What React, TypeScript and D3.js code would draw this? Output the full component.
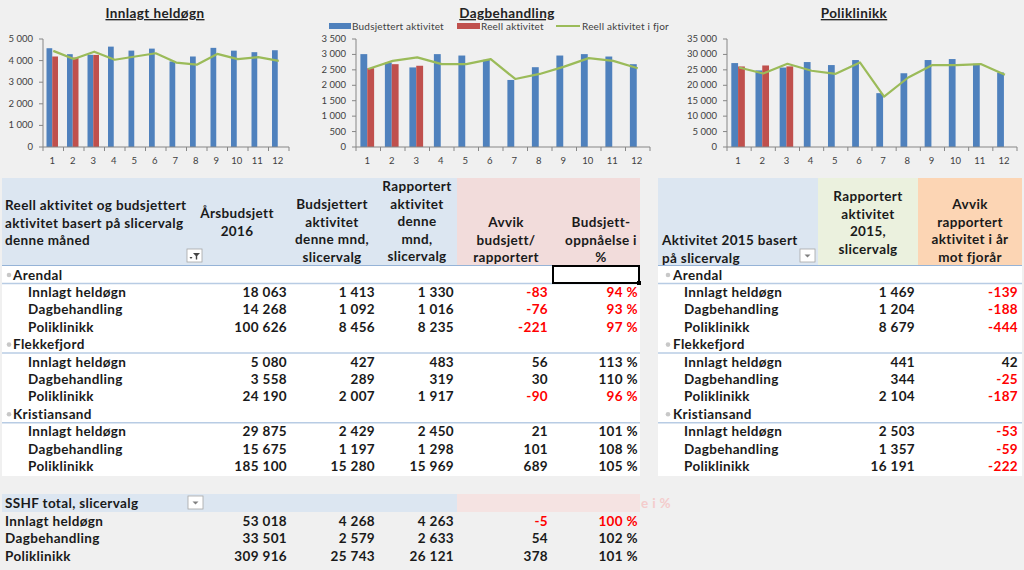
import React from "react";
import * as d3 from "d3";

const months = ["1","2","3","4","5","6","7","8","9","10","11","12"];

const innlagtBudget = [4573, 4297, 4268, 4647, 4463, 4555, 3960, 4190, 4590, 4460, 4390, 4480];
const innlagtActual = [4190, 4140, 4263];
const innlagtLastYear = [4450, 4070, 4413, 4040, 4190, 4340, 3910, 3810, 4310, 4070, 4160, 3990];

const dagBudget = [3010, 2737, 2579, 3010, 2964, 2824, 2173, 2586, 2964, 3010, 2932, 2684];
const dagActual = [2554, 2684, 2633];
const dagLastYear = [2530, 2791, 2905, 2684, 2684, 2847, 2205, 2368, 2606, 2880, 2791, 2554];

const poliBudget = [27200, 24820, 25743, 27530, 26550, 28180, 17450, 23900, 28180, 28500, 26980, 24150];
const poliActual = [26100, 26420, 26121];
const poliLastYear = [25770, 23820, 26974, 24700, 23720, 27400, 16350, 22520, 26550, 26550, 26870, 23400];

const legendLabels = ["Budsjettert aktivitet", "Reell aktivitet", "Reell aktivitet i fjor"];

const groups = ["Arendal", "Flekkefjord", "Kristiansand"];
const types = ["Innlagt heldøgn", "Dagbehandling", "Poliklinikk"];
const arsbudsjett = [18063, 14268, 100626, 5080, 3558, 24190, 29875, 15675, 185100];
const budsjettMnd = [1413, 1092, 8456, 427, 289, 2007, 2429, 1197, 15280];
const rapportertMnd = [1330, 1016, 8235, 483, 319, 1917, 2450, 1298, 15969];
const avvikBudsjett = [-83, -76, -221, 56, 30, -90, 21, 101, 689];
const oppnaelse = [94, 93, 97, 113, 110, 96, 101, 108, 105];
const rapportert2015 = [1469, 1204, 8679, 441, 344, 2104, 2503, 1357, 16191];
const avvikFjor = [-139, -188, -444, 42, -25, -187, -53, -59, -222];

const totalArs = [53018, 33501, 309916];
const totalBud = [4268, 2579, 25743];
const totalRap = [4263, 2633, 26121];
const totalAvvik = [-5, 54, 378];
const totalPct = [100, 102, 101];

const locale = d3.formatLocale({ decimal: ",", thousands: "\u00a0", grouping: [3], currency: ["", ""], minus: "-" });
const fmt = locale.format(",d");

const BLUE = "#4f81bd";
const RED = "#c0504d";
const GREEN = "#9bbb59";
const TXT_RED = "#ff0000";
const FONT = "Lato, 'Open Sans', sans-serif";

type ChartProps = {
  title: string;
  titleX: number;
  x0: number;
  x1: number;
  yMax: number;
  yStep: number;
  budget: number[];
  actual: number[];
  lastYear: number[];
  legend?: boolean;
};

function Chart({ title, titleX, x0, x1, yMax, yStep, budget, actual, lastYear, legend }: ChartProps) {
  const x = d3.scaleBand<string>().domain(months).range([x0, x1]);
  const y = d3.scaleLinear().domain([0, yMax]).range([147, 39]);
  const bw = x.bandwidth() * 0.28;
  const ticks = d3.range(0, yMax + 1, yStep);
  const line = d3
    .line<number>()
    .x((_, i) => (x(months[i]) as number) + x.bandwidth() / 2)
    .y((d) => y(d));
  const axisColor = "#868686";
  return (
    <g fontFamily={FONT}>
      <text x={titleX} y={18} textAnchor="middle" fontSize={13.5} letterSpacing={0.4} fontWeight="bold" fill="#222" textDecoration="underline">
        {title}
      </text>
      {legend && (
        <g fontSize={10} fill="#404040" letterSpacing={0.2}>
          <rect x={329} y={23} width={22} height={6} fill={BLUE} />
          <text x={352} y={29.5}>{legendLabels[0]}</text>
          <rect x={457} y={23} width={23} height={6} fill={RED} />
          <text x={481} y={29.5}>{legendLabels[1]}</text>
          <line x1={556} x2={580} y1={26} y2={26} stroke={GREEN} strokeWidth={2} />
          <text x={582} y={29.5}>{legendLabels[2]}</text>
        </g>
      )}
      <line x1={x0} x2={x0} y1={y(yMax)} y2={y(0)} stroke={axisColor} />
      {ticks.map((t) => (
        <g key={t}>
          <line x1={x0 - 4} x2={x0} y1={y(t)} y2={y(t)} stroke={axisColor} />
          <text x={x0 - 10} y={y(t) + 3} textAnchor="end" fontSize={9.5} fill="#404040">
            {fmt(t)}
          </text>
        </g>
      ))}
      {budget.map((v, i) => {
        const cx = (x(months[i]) as number) + x.bandwidth() / 2;
        return <rect key={"b" + i} x={cx - bw - 1} y={y(v)} width={bw} height={y(0) - y(v)} fill={BLUE} />;
      })}
      {actual.map((v, i) => {
        const cx = (x(months[i]) as number) + x.bandwidth() / 2;
        return <rect key={"a" + i} x={cx - 1} y={y(v)} width={bw} height={y(0) - y(v)} fill={RED} />;
      })}
      <path d={line(lastYear) as string} fill="none" stroke={GREEN} strokeWidth={2.2} strokeLinejoin="round" />
      <line x1={x0} x2={x1} y1={y(0)} y2={y(0)} stroke={axisColor} />
      {months.map((m) => (
        <g key={m}>
          <line x1={(x(m) as number) + x.bandwidth()} x2={(x(m) as number) + x.bandwidth()} y1={y(0)} y2={y(0) + 4} stroke={axisColor} />
          <text x={(x(m) as number) + x.bandwidth() / 2 - 1} y={164} textAnchor="middle" fontSize={9.5} fill="#404040">
            {m}
          </text>
        </g>
      ))}
      <line x1={x0} x2={x0} y1={y(0)} y2={y(0) + 4} stroke={axisColor} />
    </g>
  );
}

const rowY = (k: number) => 275 + k * 17.4;

function FilterButton({ x, y, funnel }: { x: number; y: number; funnel?: boolean }) {
  return (
    <g>
      <rect x={x} y={y} width={15} height={13} fill="#fff" stroke="#a6a6a6" strokeWidth={0.8} />
      {funnel ? (
        <g fill="#444">
          <path d={`M${x + 6} ${y + 4} h7 l-2.8 3 v3.5 h-1.4 v-3.5 z`} />
          <path d={`M${x + 2.5} ${y + 8} h3 l-1.5 2 z`} />
        </g>
      ) : (
        <path d={`M${x + 4.5} ${y + 5.5} h6 l-3 3 z`} fill="#808080" />
      )}
    </g>
  );
}

export default function App() {
  const colR = [287, 375, 454, 548, 638];
  const rColR = [915, 1018];
  const rows: { label: string; group: boolean; idx: number }[] = [];
  groups.forEach((g, gi) => {
    rows.push({ label: g, group: true, idx: -1 });
    types.forEach((t, ti) => rows.push({ label: t, group: false, idx: gi * 3 + ti }));
  });

  return (
    <svg width={1024} height={570} style={{ position: "absolute", left: 0, top: 0, display: "block" }}>
      <rect x={0} y={0} width={1024} height={570} fill="#f0f0f0" />
      <Chart title="Innlagt heldøgn" titleX={155} x0={43} x1={289} yMax={5000} yStep={1000}
        budget={innlagtBudget} actual={innlagtActual} lastYear={innlagtLastYear} />
      <Chart title="Dagbehandling" titleX={507} x0={356} x1={650} yMax={3500} yStep={500}
        budget={dagBudget} actual={dagActual} lastYear={dagLastYear} legend />
      <Chart title="Poliklinikk" titleX={854} x0={727} x1={1017} yMax={35000} yStep={5000}
        budget={poliBudget} actual={poliActual} lastYear={poliLastYear} />

      <g fontFamily={FONT} fontWeight="bold" fontSize={13.5} letterSpacing={0.35} fill="#1a1a1a">
        <rect x={2} y={178} width={455} height={87} fill="#dce6f1" />
        <rect x={457} y={178} width={183} height={87} fill="#f2dcdb" />
        <rect x={2} y={265} width={638} height={211} fill="#ffffff" />
        {["Reell aktivitet og budsjettert", "aktivitet basert på slicervalg", "denne måned"].map((t, i) => (
          <text key={t} x={5} y={210 + i * 17.5}>{t}</text>
        ))}
        <FilterButton x={187} y={249} funnel />
        {["Årsbudsjett", "2016"].map((t, i) => (
          <text key={t} x={237} y={218 + i * 17.5} textAnchor="middle">{t}</text>
        ))}
        {["Budsjettert", "aktivitet", "denne mnd,", "slicervalg"].map((t, i) => (
          <text key={t} x={332} y={209 + i * 17.5} textAnchor="middle">{t}</text>
        ))}
        {["Rapportert", "aktivitet", "denne", "mnd,", "slicervalg"].map((t, i) => (
          <text key={t} x={417} y={191 + i * 17.5} textAnchor="middle">{t}</text>
        ))}
        {["Avvik", "budsjett/", "rapportert"].map((t, i) => (
          <text key={t} x={506} y={227 + i * 17.5} textAnchor="middle">{t}</text>
        ))}
        {["Budsjett-", "oppnåelse i", "%"].map((t, i) => (
          <text key={t} x={601} y={227 + i * 17.5} textAnchor="middle">{t}</text>
        ))}
        <line x1={2} x2={640} y1={265.5} y2={265.5} stroke="#95b3d7" strokeWidth={1} />

        <rect x={658} y={178} width={160} height={87} fill="#dce6f1" />
        <rect x={818} y={178} width={100} height={87} fill="#ebf1de" />
        <rect x={918} y={178} width={104} height={87} fill="#fcd5b4" />
        <rect x={658} y={265} width={364} height={211} fill="#ffffff" />
        {["Aktivitet 2015 basert", "på slicervalg"].map((t, i) => (
          <text key={t} x={662} y={245 + i * 17.5}>{t}</text>
        ))}
        <FilterButton x={800} y={249} />
        {["Rapportert", "aktivitet", "2015,", "slicervalg"].map((t, i) => (
          <text key={t} x={868} y={201 + i * 17.5} textAnchor="middle">{t}</text>
        ))}
        {["Avvik", "rapportert", "aktivitet i år", "mot fjorår"].map((t, i) => (
          <text key={t} x={970} y={209 + i * 17.5} textAnchor="middle">{t}</text>
        ))}
        <line x1={658} x2={1022} y1={265.5} y2={265.5} stroke="#95b3d7" strokeWidth={1} />

        {rows.map((r, k) => {
          const yy = rowY(k);
          if (r.group) {
            return (
              <g key={k}>
                <circle cx={9} cy={yy} r={2.3} fill="#c8c8c8" />
                <text x={13} y={yy + 4.5}>{r.label}</text>
                <line x1={2} x2={640} y1={yy + 8.5} y2={yy + 8.5} stroke="#b8cce4" strokeWidth={1.5} />
                <circle cx={668} cy={yy} r={2.3} fill="#c8c8c8" />
                <text x={673} y={yy + 4.5}>{r.label}</text>
                <line x1={658} x2={1022} y1={yy + 8.5} y2={yy + 8.5} stroke="#b8cce4" strokeWidth={1.5} />
              </g>
            );
          }
          const i = r.idx;
          const neg = avvikBudsjett[i] < 0;
          return (
            <g key={k}>
              <text x={28} y={yy + 4.5}>{r.label}</text>
              <text x={colR[0]} y={yy + 4.5} textAnchor="end">{fmt(arsbudsjett[i])}</text>
              <text x={colR[1]} y={yy + 4.5} textAnchor="end">{fmt(budsjettMnd[i])}</text>
              <text x={colR[2]} y={yy + 4.5} textAnchor="end">{fmt(rapportertMnd[i])}</text>
              <text x={colR[3]} y={yy + 4.5} textAnchor="end" fill={neg ? TXT_RED : "#1a1a1a"}>{fmt(avvikBudsjett[i])}</text>
              <text x={colR[4]} y={yy + 4.5} textAnchor="end" fill={neg ? TXT_RED : "#1a1a1a"}>{oppnaelse[i] + " %"}</text>
              <text x={684} y={yy + 4.5}>{r.label}</text>
              <text x={rColR[0]} y={yy + 4.5} textAnchor="end">{fmt(rapportert2015[i])}</text>
              <text x={rColR[1]} y={yy + 4.5} textAnchor="end" fill={avvikFjor[i] < 0 ? TXT_RED : "#1a1a1a"}>{fmt(avvikFjor[i])}</text>
            </g>
          );
        })}
        <rect x={553} y={266} width={86} height={17} fill="none" stroke="#000" strokeWidth={2} />
        <rect x={637} y={281} width={4} height={4} fill="#000" />

        <rect x={2} y={494} width={455} height={18} fill="#dce6f1" />
        <rect x={457} y={494} width={183} height={18} fill="#f5e3e2" />
        <text x={641} y={508} fill="#f4cccc">e i %</text>
        <text x={5} y={508}>SSHF total, slicervalg</text>
        <FilterButton x={188} y={496} />
        {types.map((t, i) => {
          const yy = 521 + i * 17.5;
          const neg = totalAvvik[i] < 0;
          return (
            <g key={t}>
              <text x={5} y={yy + 4.5}>{t}</text>
              <text x={colR[0]} y={yy + 4.5} textAnchor="end">{fmt(totalArs[i])}</text>
              <text x={colR[1]} y={yy + 4.5} textAnchor="end">{fmt(totalBud[i])}</text>
              <text x={colR[2]} y={yy + 4.5} textAnchor="end">{fmt(totalRap[i])}</text>
              <text x={colR[3]} y={yy + 4.5} textAnchor="end" fill={neg ? TXT_RED : "#1a1a1a"}>{fmt(totalAvvik[i])}</text>
              <text x={colR[4]} y={yy + 4.5} textAnchor="end" fill={neg ? TXT_RED : "#1a1a1a"}>{totalPct[i] + " %"}</text>
            </g>
          );
        })}
      </g>
    </svg>
  );
}
